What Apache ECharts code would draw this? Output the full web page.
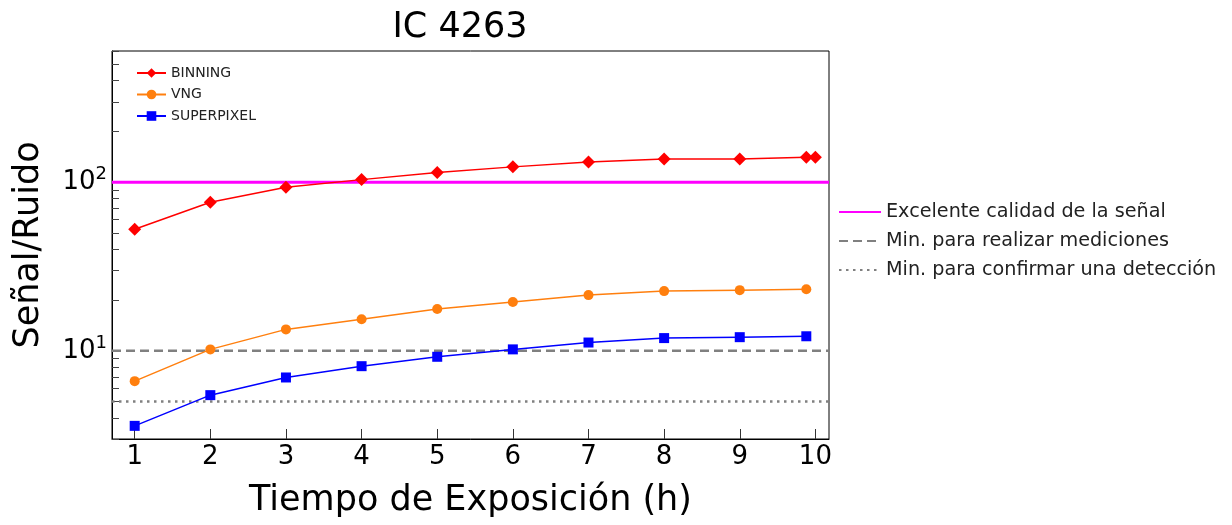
<!DOCTYPE html>
<html>
<head>
<meta charset="utf-8">
<script src="https://cdn.jsdelivr.net/npm/echarts@6/dist/echarts.min.js"></script>
<style>
html,body{margin:0;padding:0;background:#fff;}
#chart{width:1232px;height:525px;}
</style>
</head>
<body>
<div id="chart"></div>
<script>
// ---- data ----
const hours = [1, 2, 3, 4, 5, 6, 7, 8, 9, 9.88];
const binningHours = [1, 2, 3, 4, 5, 6, 7, 8, 9, 9.88, 10];
const binning = [52.6, 76.1, 93.4, 103.6, 114, 123.3, 132, 137.5, 137.5, 140.7, 140.7];
const vng = [6.61, 10.2, 13.4, 15.4, 17.7, 19.5, 21.4, 22.6, 22.9, 23.2];
const superpixel = [3.59, 5.46, 6.95, 8.11, 9.22, 10.2, 11.2, 11.9, 12.05, 12.2];
const xTicks = [1, 2, 3, 4, 5, 6, 7, 8, 9, 10];
const yMajorTicks = [10, 100];
const yAllTicks = [3, 4, 5, 6, 7, 8, 9, 10, 20, 30, 40, 50, 60, 70, 80, 90, 100, 200, 300, 400, 500, 600];
const xRange = [0.7, 10.18];
const yRange = [3, 600];
const thresholdNames = ['Excelente calidad de la señal', 'Min. para realizar mediciones', 'Min. para confirmar una detección'];
const thresholdValues = [100, 10, 5];
const seriesNames = ['BINNING', 'VNG', 'SUPERPIXEL'];

const FONT = 'DejaVu Sans';
const zip = (xs, ys) => ys.map((y, i) => [xs[i], y]);
const hline = v => [[xRange[0], v], [xRange[1], v]];

const chart = echarts.init(document.getElementById('chart'), null, {renderer: 'canvas'});
const option = {
  backgroundColor: '#fff',
  animation: false,
  textStyle: {fontFamily: FONT},
  title: {
    text: 'IC 4263',
    left: 455, textAlign: 'center',
    top: 5,
    textStyle: {fontFamily: FONT, fontSize: 35, fontWeight: 'normal', color: '#000'}
  },
  grid: {
    left: 112, top: 51, width: 717, height: 388,
    show: true, borderColor: '#000', borderWidth: 1, backgroundColor: 'transparent'
  },
  legend: [
    {
      data: seriesNames,
      orient: 'vertical',
      left: 136, top: 66, padding: 0,
      itemWidth: 29, itemHeight: 12, itemGap: 7.5,
      textStyle: {fontFamily: FONT, fontSize: 14, color: '#222'}
    },
    {
      data: thresholdNames,
      orient: 'vertical',
      left: 838, top: 202.5, padding: 0,
      itemWidth: 42, itemHeight: 14, itemGap: 10,
      itemStyle: {opacity: 0},
      textStyle: {fontFamily: FONT, fontSize: 19.2, color: '#222'}
    }
  ],
  xAxis: {
    type: 'value',
    min: xRange[0], max: xRange[1],
    name: 'Tiempo de Exposición (h)',
    nameLocation: 'middle', nameGap: 44,
    nameTextStyle: {fontFamily: FONT, fontSize: 35, color: '#000'},
    axisLine: {lineStyle: {color: '#000', width: 1}},
    axisTick: {show: true, inside: true, length: 10, customValues: xTicks, lineStyle: {color: '#333', width: 1}},
    axisLabel: {customValues: xTicks, margin: 5, fontFamily: FONT, fontSize: 26, color: '#000'},
    splitLine: {show: false}
  },
  yAxis: {
    type: 'log', logBase: 10,
    min: yRange[0], max: yRange[1],
    name: 'Señal/Ruido',
    nameLocation: 'middle', nameGap: 66,
    nameTextStyle: {fontFamily: FONT, fontSize: 35, color: '#000'},
    axisLine: {show: true, lineStyle: {color: '#000', width: 1}},
    axisTick: {show: true, inside: true, length: 7, customValues: yAllTicks, lineStyle: {color: '#444', width: 1}},
    axisLabel: {
      customValues: yMajorTicks,
      margin: 5,
      formatter: function (v) {
        const e = Math.round(Math.log10(v));
        return '{b|10}{s|' + e + '}';
      },
      rich: {
        b: {fontFamily: FONT, fontSize: 26, color: '#000', lineHeight: 26, verticalAlign: 'middle'},
        s: {fontFamily: FONT, fontSize: 18, color: '#000', lineHeight: 18, padding: [0, 0, 16, 0], verticalAlign: 'middle'}
      }
    },
    splitLine: {show: false},
    minorTick: {show: false}
  },
  series: [
    {
      name: thresholdNames[0], type: 'line', symbol: 'none', silent: true, z: 3,
      data: hline(thresholdValues[0]),
      lineStyle: {color: '#ff00ff', width: 3}, itemStyle: {color: '#ff00ff'}
    },
    {
      name: thresholdNames[1], type: 'line', symbol: 'none', silent: true, z: 1,
      data: hline(thresholdValues[1]),
      lineStyle: {color: '#808080', width: 2.5, type: [9, 5]}, itemStyle: {color: '#808080'}
    },
    {
      name: thresholdNames[2], type: 'line', symbol: 'none', silent: true, z: 1,
      data: hline(thresholdValues[2]),
      lineStyle: {color: '#808080', width: 2.5, type: [2.5, 4.5]}, itemStyle: {color: '#808080'}
    },
    {
      name: 'BINNING', type: 'line', z: 4,
      data: zip(binningHours, binning),
      symbol: 'diamond', symbolSize: 13, showAllSymbol: true,
      lineStyle: {color: '#ff0000', width: 1.5}, itemStyle: {color: '#ff0000'}
    },
    {
      name: 'VNG', type: 'line', z: 4,
      data: zip(hours, vng),
      symbol: 'circle', symbolSize: 10, showAllSymbol: true,
      lineStyle: {color: '#ff7f0e', width: 1.5}, itemStyle: {color: '#ff7f0e'}
    },
    {
      name: 'SUPERPIXEL', type: 'line', z: 4,
      data: zip(hours, superpixel),
      symbol: 'rect', symbolSize: 10, showAllSymbol: true,
      lineStyle: {color: '#0000ff', width: 1.5}, itemStyle: {color: '#0000ff'}
    }
  ]
};
chart.setOption(option);
</script>
</body>
</html>
